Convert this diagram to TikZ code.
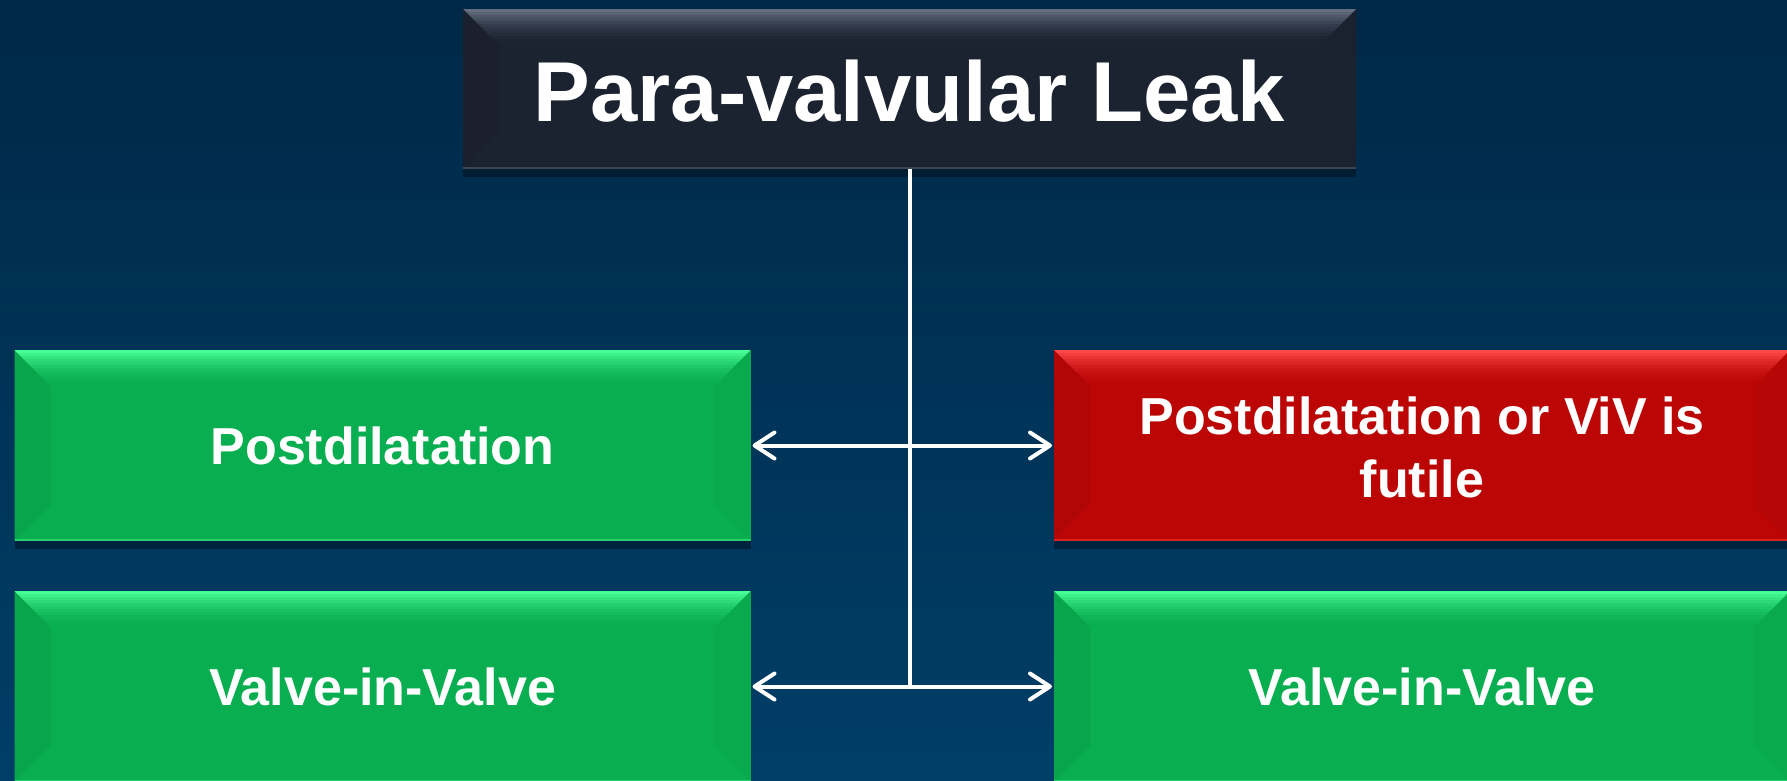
\documentclass[tikz,border=0pt]{standalone}
\usepackage{fontspec}
\setmainfont{Liberation Sans}
\usetikzlibrary{arrows.meta,calc}
\definecolor{bgtop}{RGB}{0,40,70}
\definecolor{bgbot}{RGB}{0,62,104}
\definecolor{tbase}{RGB}{27,34,48}
\definecolor{tlight}{RGB}{100,112,128}
\definecolor{gbase}{RGB}{9,174,80}
\definecolor{glight}{RGB}{72,255,150}
\definecolor{rbase}{RGB}{188,6,6}
\definecolor{rlight}{RGB}{255,72,72}
\newcommand{\bvd}{18pt}
\newcommand{\bevelpic}[2]{%
  \fill[#2!95!black]
    (path picture bounding box.north west)
    -- ([shift={(\bvd,-\bvd)}]path picture bounding box.north west)
    -- ([shift={(\bvd,\bvd)}]path picture bounding box.south west)
    -- (path picture bounding box.south west) -- cycle;
  \fill[#2!97!black]
    (path picture bounding box.north east)
    -- ([shift={(-\bvd,-\bvd)}]path picture bounding box.north east)
    -- ([shift={(-\bvd,\bvd)}]path picture bounding box.south east)
    -- (path picture bounding box.south east) -- cycle;
  \begin{scope}
    \clip (path picture bounding box.north west) -- (path picture bounding box.north east)
      -- ([shift={(-\bvd,-\bvd)}]path picture bounding box.north east)
      -- ([shift={(\bvd,-\bvd)}]path picture bounding box.north west) -- cycle;
    \foreach \i in {0,...,11}{
      \pgfmathtruncatemacro\pc{100*(1-\i/12)^2}
      \fill[#1!\pc!#2] ([yshift=-\i*1.5pt]path picture bounding box.north west)
        rectangle ([yshift=-\i*1.5pt-1.7pt]path picture bounding box.north east);
    }
  \end{scope}
  \draw[#1!45!#2, line width=1.2pt]
    ([yshift=0.6pt]path picture bounding box.south west) -- ([yshift=0.6pt]path picture bounding box.south east);
}
\tikzset{
  box/.style={inner sep=0pt, outer sep=0pt, text=white,
    font=\fontsize{26}{31.5}\selectfont\bfseries, align=center,
    minimum width=368pt, minimum height=95.5pt,
    preaction={fill=black, opacity=0.35, transform canvas={yshift=-4pt}}},
  greenbox/.style={box, fill=gbase, path picture={\bevelpic{glight}{gbase}}},
  redbox/.style={box, fill=rbase, path picture={\bevelpic{rlight}{rbase}}},
  titlebox/.style={box, fill=tbase, path picture={\bevelpic{tlight}{tbase}},
    minimum width=446.5pt, minimum height=80pt,
    font=\fontsize{42.5}{50}\selectfont\bfseries},
  conn/.style={draw=white, line width=2pt},
  barb/.tip={Straight Barb[length=10pt, width=13pt, round]}
}
\begin{document}
\begin{tikzpicture}[x=0.5pt, y=-0.5pt]
\useasboundingbox (0,0) rectangle (1787,781);
\fill[top color=bgtop, bottom color=bgbot] (0,0) rectangle (1787,781);

\node[titlebox] (title) at (909.5,89) {\raisebox{-1.3pt}[\height][\depth]{Para-valvular Leak}};
\node[greenbox] (pd) at (382.5,445.5) {Postdilatation};
\node[redbox] (fut) at (1422,445.5) {\raisebox{-4pt}[\height][\depth]{\begin{tabular}{@{}c@{}}Postdilatation or ViV is\\futile\end{tabular}}};
\node[greenbox] (viv1) at (382.5,686.5) {Valve-in-Valve};
\node[greenbox] (viv2) at (1422,686.5) {Valve-in-Valve};

\draw[conn] (title.south) -- (title.south |- viv1.east);
\draw[conn, barb-barb] ([xshift=1pt]pd.east) -- ([xshift=-1pt]fut.west);
\draw[conn, barb-barb] ([xshift=1pt]viv1.east) -- ([xshift=-1pt]viv2.west);
\end{tikzpicture}
\end{document}
